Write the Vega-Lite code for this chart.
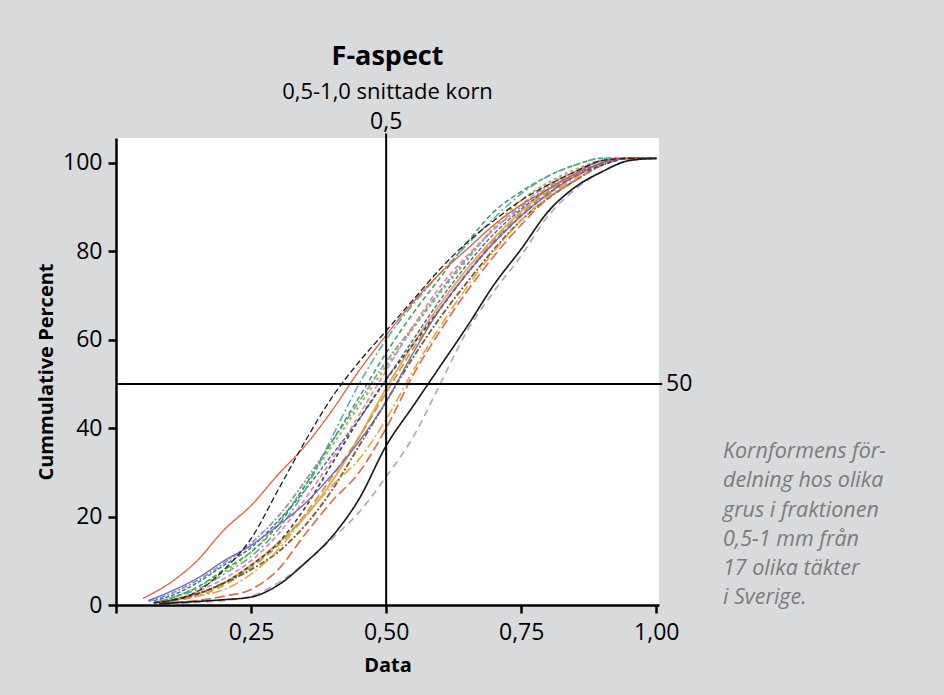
{
  "$schema": "https://vega.github.io/schema/vega-lite/v6.json",
  "autosize": {"type": "none"},
  "width": 543,
  "height": 467,
  "padding": {"left": 116, "top": 138, "right": 285, "bottom": 90},
  "background": "#d9dadc",
  "config": {"view": {"fill": "white", "stroke": null}, "font": "Open Sans"},
  "title": {
    "text": "F-aspect",
    "subtitle": "0,5-1,0 snittade korn",
    "anchor": "middle",
    "font": "Open Sans",
    "fontSize": 27,
    "fontWeight": "bold",
    "color": "black",
    "subtitleFont": "Open Sans",
    "subtitleFontSize": 22,
    "subtitleColor": "black",
    "subtitlePadding": 11,
    "offset": 7
  },
  "datasets": {
    "one": [{}],
    "curves": [
      {"s":"T17","x":0.08,"y":0.5},{"s":"T17","x":0.1,"y":1},{"s":"T17","x":0.15,"y":2.5},{"s":"T17","x":0.2,"y":5},{"s":"T17","x":0.25,"y":9},{"s":"T17","x":0.3,"y":14},{"s":"T17","x":0.35,"y":20},{"s":"T17","x":0.4,"y":28},{"s":"T17","x":0.45,"y":38},{"s":"T17","x":0.5,"y":49},{"s":"T17","x":0.55,"y":59},{"s":"T17","x":0.6,"y":68},{"s":"T17","x":0.65,"y":76},{"s":"T17","x":0.7,"y":83},{"s":"T17","x":0.75,"y":89},{"s":"T17","x":0.8,"y":94},{"s":"T17","x":0.85,"y":97.5},{"s":"T17","x":0.9,"y":100.5},{"s":"T17","x":0.95,"y":101},{"s":"T17","x":1,"y":101},
      {"s":"T16","x":0.07,"y":0.5},{"s":"T16","x":0.1,"y":1.5},{"s":"T16","x":0.15,"y":4},{"s":"T16","x":0.2,"y":7.5},{"s":"T16","x":0.25,"y":12},{"s":"T16","x":0.3,"y":18.5},{"s":"T16","x":0.35,"y":27},{"s":"T16","x":0.4,"y":36},{"s":"T16","x":0.45,"y":45},{"s":"T16","x":0.5,"y":54},{"s":"T16","x":0.55,"y":62.5},{"s":"T16","x":0.6,"y":70.5},{"s":"T16","x":0.65,"y":78},{"s":"T16","x":0.7,"y":85.5},{"s":"T16","x":0.75,"y":91.5},{"s":"T16","x":0.8,"y":95.5},{"s":"T16","x":0.85,"y":98.5},{"s":"T16","x":0.9,"y":100.5},{"s":"T16","x":0.95,"y":101},{"s":"T16","x":1,"y":101},
      {"s":"T14","x":0.06,"y":0.8},{"s":"T14","x":0.1,"y":2.5},{"s":"T14","x":0.15,"y":5.5},{"s":"T14","x":0.2,"y":9.5},{"s":"T14","x":0.25,"y":14},{"s":"T14","x":0.3,"y":20},{"s":"T14","x":0.35,"y":28},{"s":"T14","x":0.4,"y":37},{"s":"T14","x":0.45,"y":46},{"s":"T14","x":0.5,"y":55},{"s":"T14","x":0.55,"y":63},{"s":"T14","x":0.6,"y":71},{"s":"T14","x":0.65,"y":78.5},{"s":"T14","x":0.7,"y":85},{"s":"T14","x":0.75,"y":90},{"s":"T14","x":0.8,"y":94.5},{"s":"T14","x":0.85,"y":98},{"s":"T14","x":0.9,"y":100.5},{"s":"T14","x":0.95,"y":101},{"s":"T14","x":1,"y":101},
      {"s":"T12","x":0.07,"y":0.5},{"s":"T12","x":0.1,"y":1},{"s":"T12","x":0.15,"y":3},{"s":"T12","x":0.2,"y":6},{"s":"T12","x":0.25,"y":10},{"s":"T12","x":0.3,"y":16},{"s":"T12","x":0.35,"y":24},{"s":"T12","x":0.4,"y":33},{"s":"T12","x":0.45,"y":43},{"s":"T12","x":0.5,"y":53},{"s":"T12","x":0.55,"y":63},{"s":"T12","x":0.6,"y":72},{"s":"T12","x":0.65,"y":79},{"s":"T12","x":0.7,"y":85},{"s":"T12","x":0.75,"y":90.5},{"s":"T12","x":0.8,"y":95},{"s":"T12","x":0.85,"y":98},{"s":"T12","x":0.9,"y":100.5},{"s":"T12","x":0.95,"y":101},{"s":"T12","x":1,"y":101},
      {"s":"T13","x":0.08,"y":0.3},{"s":"T13","x":0.1,"y":0.8},{"s":"T13","x":0.15,"y":2},{"s":"T13","x":0.2,"y":4.5},{"s":"T13","x":0.25,"y":8.5},{"s":"T13","x":0.3,"y":13.5},{"s":"T13","x":0.35,"y":20.5},{"s":"T13","x":0.4,"y":29},{"s":"T13","x":0.45,"y":38},{"s":"T13","x":0.5,"y":48},{"s":"T13","x":0.55,"y":58},{"s":"T13","x":0.6,"y":67},{"s":"T13","x":0.65,"y":75},{"s":"T13","x":0.7,"y":82.5},{"s":"T13","x":0.75,"y":88.5},{"s":"T13","x":0.8,"y":93.5},{"s":"T13","x":0.85,"y":97},{"s":"T13","x":0.9,"y":100},{"s":"T13","x":0.95,"y":101},{"s":"T13","x":1,"y":101},
      {"s":"T15","x":0.08,"y":0.5},{"s":"T15","x":0.1,"y":1},{"s":"T15","x":0.15,"y":2.5},{"s":"T15","x":0.2,"y":5},{"s":"T15","x":0.25,"y":8},{"s":"T15","x":0.3,"y":12},{"s":"T15","x":0.35,"y":18},{"s":"T15","x":0.4,"y":26},{"s":"T15","x":0.45,"y":36},{"s":"T15","x":0.5,"y":46},{"s":"T15","x":0.55,"y":56},{"s":"T15","x":0.6,"y":65},{"s":"T15","x":0.65,"y":73},{"s":"T15","x":0.7,"y":80.5},{"s":"T15","x":0.75,"y":87},{"s":"T15","x":0.8,"y":92},{"s":"T15","x":0.85,"y":96},{"s":"T15","x":0.9,"y":99.5},{"s":"T15","x":0.95,"y":101},{"s":"T15","x":1,"y":101},
      {"s":"T7","x":0.08,"y":0.5},{"s":"T7","x":0.1,"y":1},{"s":"T7","x":0.15,"y":2},{"s":"T7","x":0.2,"y":3.5},{"s":"T7","x":0.25,"y":7},{"s":"T7","x":0.3,"y":12.5},{"s":"T7","x":0.35,"y":20},{"s":"T7","x":0.4,"y":27},{"s":"T7","x":0.45,"y":33},{"s":"T7","x":0.5,"y":42},{"s":"T7","x":0.55,"y":53},{"s":"T7","x":0.6,"y":63},{"s":"T7","x":0.65,"y":72},{"s":"T7","x":0.7,"y":80},{"s":"T7","x":0.75,"y":87},{"s":"T7","x":0.8,"y":92.5},{"s":"T7","x":0.85,"y":96.5},{"s":"T7","x":0.9,"y":100},{"s":"T7","x":0.95,"y":101},{"s":"T7","x":1,"y":101},
      {"s":"T8","x":0.08,"y":0.5},{"s":"T8","x":0.15,"y":1},{"s":"T8","x":0.2,"y":2},{"s":"T8","x":0.25,"y":3.5},{"s":"T8","x":0.3,"y":8},{"s":"T8","x":0.35,"y":16},{"s":"T8","x":0.4,"y":23.5},{"s":"T8","x":0.45,"y":30},{"s":"T8","x":0.5,"y":40},{"s":"T8","x":0.55,"y":52},{"s":"T8","x":0.6,"y":62},{"s":"T8","x":0.65,"y":71},{"s":"T8","x":0.7,"y":79},{"s":"T8","x":0.75,"y":86},{"s":"T8","x":0.8,"y":92},{"s":"T8","x":0.85,"y":96},{"s":"T8","x":0.9,"y":99.5},{"s":"T8","x":0.95,"y":101},{"s":"T8","x":1,"y":101},
      {"s":"T4","x":0.07,"y":1},{"s":"T4","x":0.1,"y":2},{"s":"T4","x":0.15,"y":5},{"s":"T4","x":0.2,"y":9},{"s":"T4","x":0.25,"y":13},{"s":"T4","x":0.3,"y":19},{"s":"T4","x":0.35,"y":26},{"s":"T4","x":0.4,"y":34},{"s":"T4","x":0.45,"y":42},{"s":"T4","x":0.5,"y":51},{"s":"T4","x":0.55,"y":60},{"s":"T4","x":0.6,"y":69},{"s":"T4","x":0.65,"y":77},{"s":"T4","x":0.7,"y":84},{"s":"T4","x":0.75,"y":89.5},{"s":"T4","x":0.8,"y":94},{"s":"T4","x":0.85,"y":97.5},{"s":"T4","x":0.9,"y":100},{"s":"T4","x":0.95,"y":101},{"s":"T4","x":1,"y":101},
      {"s":"T5","x":0.07,"y":0.5},{"s":"T5","x":0.1,"y":1.5},{"s":"T5","x":0.15,"y":4},{"s":"T5","x":0.2,"y":8},{"s":"T5","x":0.25,"y":12},{"s":"T5","x":0.3,"y":18},{"s":"T5","x":0.35,"y":27},{"s":"T5","x":0.4,"y":37},{"s":"T5","x":0.45,"y":47},{"s":"T5","x":0.5,"y":57},{"s":"T5","x":0.55,"y":66},{"s":"T5","x":0.6,"y":74},{"s":"T5","x":0.65,"y":82},{"s":"T5","x":0.7,"y":89},{"s":"T5","x":0.75,"y":93.5},{"s":"T5","x":0.8,"y":97},{"s":"T5","x":0.85,"y":99.5},{"s":"T5","x":0.9,"y":101},{"s":"T5","x":0.95,"y":101},{"s":"T5","x":1,"y":101},
      {"s":"T6","x":0.07,"y":0.5},{"s":"T6","x":0.1,"y":1.5},{"s":"T6","x":0.15,"y":3.5},{"s":"T6","x":0.2,"y":7},{"s":"T6","x":0.25,"y":11},{"s":"T6","x":0.3,"y":17},{"s":"T6","x":0.35,"y":26},{"s":"T6","x":0.4,"y":38},{"s":"T6","x":0.45,"y":50},{"s":"T6","x":0.5,"y":60},{"s":"T6","x":0.55,"y":68},{"s":"T6","x":0.6,"y":75},{"s":"T6","x":0.65,"y":81.5},{"s":"T6","x":0.7,"y":87.5},{"s":"T6","x":0.75,"y":93},{"s":"T6","x":0.8,"y":97},{"s":"T6","x":0.85,"y":99.5},{"s":"T6","x":0.9,"y":101},{"s":"T6","x":0.95,"y":101},{"s":"T6","x":1,"y":101},
      {"s":"T11","x":0.07,"y":0.5},{"s":"T11","x":0.1,"y":1},{"s":"T11","x":0.15,"y":2.5},{"s":"T11","x":0.2,"y":5},{"s":"T11","x":0.25,"y":9},{"s":"T11","x":0.3,"y":14},{"s":"T11","x":0.35,"y":22},{"s":"T11","x":0.4,"y":32},{"s":"T11","x":0.45,"y":42},{"s":"T11","x":0.5,"y":51},{"s":"T11","x":0.55,"y":59},{"s":"T11","x":0.6,"y":67},{"s":"T11","x":0.65,"y":75},{"s":"T11","x":0.7,"y":82},{"s":"T11","x":0.75,"y":88},{"s":"T11","x":0.8,"y":93},{"s":"T11","x":0.85,"y":97},{"s":"T11","x":0.9,"y":99.5},{"s":"T11","x":0.95,"y":101},{"s":"T11","x":1,"y":101},
      {"s":"T3","x":0.06,"y":1},{"s":"T3","x":0.1,"y":3},{"s":"T3","x":0.15,"y":6},{"s":"T3","x":0.2,"y":10},{"s":"T3","x":0.25,"y":13.5},{"s":"T3","x":0.3,"y":18},{"s":"T3","x":0.35,"y":23},{"s":"T3","x":0.4,"y":29.5},{"s":"T3","x":0.45,"y":37},{"s":"T3","x":0.5,"y":46},{"s":"T3","x":0.55,"y":57},{"s":"T3","x":0.6,"y":67},{"s":"T3","x":0.65,"y":75},{"s":"T3","x":0.7,"y":82},{"s":"T3","x":0.75,"y":88},{"s":"T3","x":0.8,"y":93},{"s":"T3","x":0.85,"y":97},{"s":"T3","x":0.9,"y":100},{"s":"T3","x":0.95,"y":101},{"s":"T3","x":1,"y":101},
      {"s":"T10","x":0.1,"y":0.3},{"s":"T10","x":0.15,"y":0.6},{"s":"T10","x":0.2,"y":1},{"s":"T10","x":0.25,"y":2},{"s":"T10","x":0.3,"y":5},{"s":"T10","x":0.35,"y":9.5},{"s":"T10","x":0.4,"y":15},{"s":"T10","x":0.45,"y":21},{"s":"T10","x":0.5,"y":29},{"s":"T10","x":0.55,"y":38},{"s":"T10","x":0.6,"y":50},{"s":"T10","x":0.65,"y":62},{"s":"T10","x":0.7,"y":71},{"s":"T10","x":0.75,"y":79},{"s":"T10","x":0.8,"y":88},{"s":"T10","x":0.85,"y":94},{"s":"T10","x":0.9,"y":98},{"s":"T10","x":0.95,"y":100.5},{"s":"T10","x":1,"y":101},
      {"s":"T1","x":0.05,"y":1.5},{"s":"T1","x":0.1,"y":5},{"s":"T1","x":0.15,"y":10},{"s":"T1","x":0.2,"y":17},{"s":"T1","x":0.25,"y":22.5},{"s":"T1","x":0.3,"y":29.5},{"s":"T1","x":0.35,"y":36},{"s":"T1","x":0.4,"y":44},{"s":"T1","x":0.45,"y":53},{"s":"T1","x":0.5,"y":61},{"s":"T1","x":0.55,"y":68.5},{"s":"T1","x":0.6,"y":75},{"s":"T1","x":0.65,"y":80.5},{"s":"T1","x":0.7,"y":86},{"s":"T1","x":0.75,"y":90.5},{"s":"T1","x":0.8,"y":94},{"s":"T1","x":0.85,"y":97.5},{"s":"T1","x":0.9,"y":100.5},{"s":"T1","x":0.95,"y":101},{"s":"T1","x":1,"y":101},
      {"s":"T9","x":0.08,"y":0.3},{"s":"T9","x":0.15,"y":0.8},{"s":"T9","x":0.2,"y":1.2},{"s":"T9","x":0.25,"y":1.8},{"s":"T9","x":0.3,"y":4.5},{"s":"T9","x":0.35,"y":9.5},{"s":"T9","x":0.4,"y":15.5},{"s":"T9","x":0.45,"y":24},{"s":"T9","x":0.5,"y":36},{"s":"T9","x":0.55,"y":45},{"s":"T9","x":0.6,"y":54},{"s":"T9","x":0.65,"y":63},{"s":"T9","x":0.7,"y":72.5},{"s":"T9","x":0.75,"y":80.5},{"s":"T9","x":0.8,"y":89},{"s":"T9","x":0.85,"y":94.5},{"s":"T9","x":0.9,"y":98},{"s":"T9","x":0.95,"y":100.5},{"s":"T9","x":1,"y":101},
      {"s":"T2","x":0.07,"y":0.5},{"s":"T2","x":0.1,"y":1},{"s":"T2","x":0.15,"y":3},{"s":"T2","x":0.2,"y":8},{"s":"T2","x":0.25,"y":15},{"s":"T2","x":0.3,"y":26},{"s":"T2","x":0.35,"y":37},{"s":"T2","x":0.4,"y":47},{"s":"T2","x":0.45,"y":55},{"s":"T2","x":0.5,"y":62},{"s":"T2","x":0.55,"y":69},{"s":"T2","x":0.6,"y":76},{"s":"T2","x":0.65,"y":82},{"s":"T2","x":0.7,"y":87},{"s":"T2","x":0.75,"y":91.5},{"s":"T2","x":0.8,"y":95},{"s":"T2","x":0.85,"y":98},{"s":"T2","x":0.9,"y":100.5},{"s":"T2","x":0.95,"y":101},{"s":"T2","x":1,"y":101}
    ]
  },
  "layer": [
    {
      "data": {"name": "curves"},
      "mark": {"type": "line", "interpolate": "monotone"},
      "encoding": {
        "x": {
          "field": "x", "type": "quantitative",
          "scale": {"domain": [0, 1.005], "nice": false, "zero": false},
          "axis": {
            "title": "Data",
            "values": [0, 0.25, 0.5, 0.75, 1],
            "labelExpr": "datum.value == 0 ? '' : replace(format(datum.value, '.2f'), '.', ',')",
            "grid": false,
            "labelFont": "Open Sans", "labelFontSize": 23, "labelColor": "black", "labelPadding": 8,
            "tickColor": "black", "tickWidth": 2.5, "tickSize": 8,
            "domainColor": "black", "domainWidth": 2.5,
            "titleFont": "Open Sans", "titleFontSize": 20, "titleFontWeight": "bold", "titleColor": "black", "titlePadding": 11
          }
        },
        "y": {
          "field": "y", "type": "quantitative",
          "scale": {"domain": [0, 105.6], "nice": false},
          "axis": {
            "title": "Cummulative Percent",
            "values": [0, 20, 40, 60, 80, 100],
            "grid": false,
            "labelFont": "Open Sans", "labelFontSize": 23, "labelColor": "black", "labelPadding": 6,
            "tickColor": "black", "tickWidth": 2.5, "tickSize": 8,
            "domainColor": "black", "domainWidth": 2.5,
            "titleFont": "Open Sans", "titleFontSize": 20, "titleFontWeight": "bold", "titleColor": "black", "titlePadding": 6
          }
        },
        "detail": {"field": "s", "type": "nominal"},
        "color": {
          "field": "s", "type": "nominal", "legend": null,
          "scale": {
            "domain": ["T1","T2","T3","T4","T5","T6","T7","T8","T9","T10","T11","T12","T13","T14","T15","T16","T17"],
            "range": ["#e2603c","#222222","#7b62c4","#3c6fb8","#3d9b5c","#55aaa6","#eba43c","#e36a44","#1a1a1a","#b8a0d8","#4a4a4a","#e88aab","#c2a23a","#8b9bc0","#7a6030","#8cc63f","#f2a65a"]
          }
        },
        "strokeDash": {
          "field": "s", "type": "nominal", "legend": null,
          "scale": {
            "domain": ["T1","T2","T3","T4","T5","T6","T7","T8","T9","T10","T11","T12","T13","T14","T15","T16","T17"],
            "range": [[1,0],[6,3],[1,0],[4,2],[5,3],[8,3,2,3],[10,3,2,3],[10,4],[1,0],[7,5],[4,3],[5,3],[8,4],[6,2,2,2],[6,2,2,2],[3,3],[1,0]]
          }
        },
        "strokeWidth": {
          "field": "s", "type": "nominal", "legend": null,
          "scale": {
            "domain": ["T1","T2","T3","T4","T5","T6","T7","T8","T9","T10","T11","T12","T13","T14","T15","T16","T17"],
            "range": [1.3,2,1.3,1.3,1.3,1.3,1.5,1.3,1.6,1.3,1.5,1.3,1.6,1.3,1.3,1.3,1.3]
          }
        }
      }
    },
    {
      "data": {"name": "one"},
      "mark": {"type": "rule", "color": "black", "strokeWidth": 2},
      "encoding": {"x": {"datum": 0.5}, "y": {"datum": 0}, "y2": {"datum": 106.6}}
    },
    {
      "data": {"name": "one"},
      "mark": {"type": "rule", "color": "black", "strokeWidth": 2},
      "encoding": {"x": {"datum": 0}, "x2": {"datum": 1.011}, "y": {"datum": 50}}
    },
    {
      "data": {"name": "one"},
      "mark": {"type": "text", "text": "0,5", "font": "Open Sans", "fontSize": 23, "color": "black", "align": "center", "baseline": "alphabetic"},
      "encoding": {"x": {"datum": 0.5}, "y": {"datum": 107.6}}
    },
    {
      "data": {"name": "one"},
      "mark": {"type": "text", "text": "50", "font": "Open Sans", "fontSize": 23, "color": "black", "align": "left", "baseline": "middle"},
      "encoding": {"x": {"datum": 1.018}, "y": {"datum": 50}}
    },
    {
      "data": {"name": "one"},
      "mark": {
        "type": "text",
        "text": ["Kornformens för-", "delning hos olika", "grus i fraktionen", "0,5-1 mm från", "17 olika täkter", "i Sverige."],
        "font": "Open Sans", "fontSize": 21.5, "fontStyle": "italic", "color": "#7c7c7c",
        "align": "left", "baseline": "alphabetic", "lineHeight": 29.2
      },
      "encoding": {"x": {"datum": 1.1234}, "y": {"datum": 33.2}}
    }
  ]
}
